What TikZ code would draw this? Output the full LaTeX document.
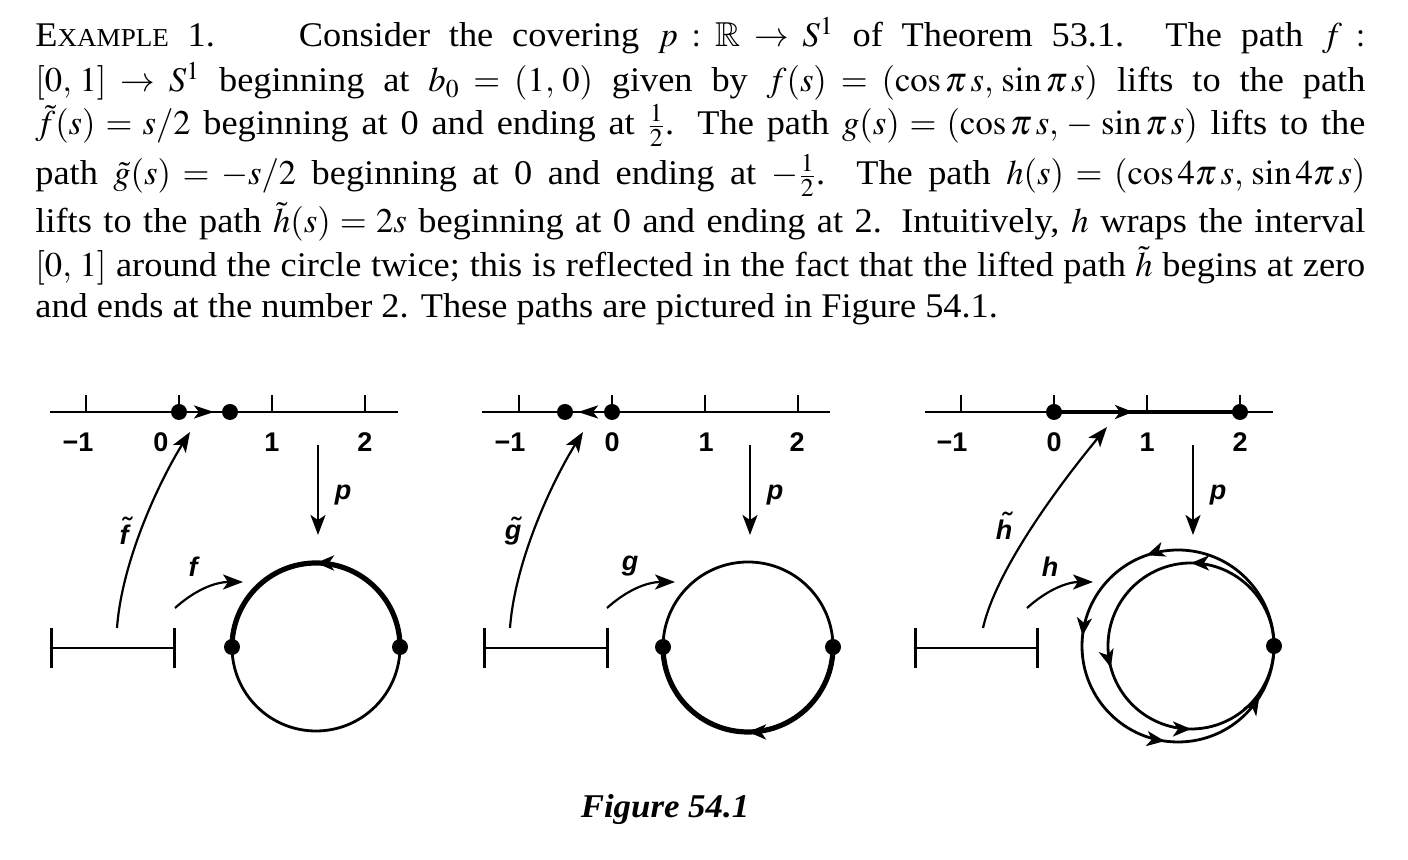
\documentclass[tikz,border=0pt]{standalone}
\usepackage{amssymb}
\usepackage{mathptmx}
\usepackage[no-math]{fontspec}
\setmainfont{Liberation Serif}[FakeStretch=1.05]
\newfontfamily\figfont{Liberation Sans}
\usetikzlibrary{arrows.meta}
\usetikzlibrary{decorations.markings}

\newcommand\tildelab[2]{\setbox0\hbox{#2}\hbox to\wd0{\hss\kern0.12em\raisebox{#1}{\char"02DC}\hss}\kern-\wd0\box0}

\tikzset{
  textline/.style={anchor=base west, inner sep=0pt, font=\fontsize{17.3}{20}\selectfont},
  axisline/.style={line width=1.3pt},
  lift/.style={line width=1.1pt, -{Stealth[length=10pt,width=7.5pt,inset=2.5pt]}},
  numlabel/.style={anchor=base, inner sep=0pt, font=\figfont\bfseries\fontsize{13.5}{16}\selectfont},
  maplabel/.style={anchor=base, inner sep=0pt, font=\figfont\bfseries\itshape\fontsize{13.5}{16}\selectfont},
  circline/.style={line width=1.4pt},
  thickarc/.style={line width=2.6pt},
  cirarrow/.style={postaction={decorate, decoration={markings, mark=at position #1 with {\arrow{Stealth[length=9pt,width=7.5pt,inset=2.5pt]}}}}}
}

\begin{document}
\begin{tikzpicture}[x=0.5pt, y=0.5pt]
\useasboundingbox (0,0) rectangle (1408,860);

\node[textline] (line1) at (35,813) {\hbox to 665pt{E{\fontsize{12.9}{16}\selectfont XAMPLE} 1.\hskip 42pt Consider the covering $p:\mathbb{R}\to S^1$ of Theorem 53.1. The path $f:$}};
\node[textline] (line2) at (35,768) {\hbox to 665pt{$[0,\,1]\to S^1$ beginning at $b_0=(1,\,0)$ given by $f(s)=(\cos\pi\mkern2mu s,\,\sin\pi\mkern2mu s)$ lifts to the path}};
\node[textline] (line3) at (35,725) {\hbox to 665pt{$\tilde f(s)=s/2$ beginning at 0 and ending at $\frac12$. The path $g(s)=(\cos\pi\mkern2mu s,\,-\,\sin\pi\mkern2mu s)$ lifts to the}};
\node[textline] (line4) at (35,675) {\hbox to 665pt{path $\tilde g(s)=-s/2$ beginning at 0 and ending at $-\frac12$. The path $h(s)=(\cos4\pi\mkern2mu s,\,\sin4\pi\mkern2mu s)$}};
\node[textline] (line5) at (35,627) {\hbox to 665pt{lifts to the path $\tilde h(s)=2s$ beginning at 0 and ending at 2. Intuitively, $h$ wraps the interval}};
\node[textline] (line6) at (35,583) {\hbox to 665pt{$[0,\,1]$ around the circle twice; this is reflected in the fact that the lifted path $\tilde h$ begins at zero}};
\node[textline] (line7) at (35,542) {and ends at the number 2. These paths are pictured in Figure 54.1.};

\begin{scope}
\draw[axisline] (50,448) -- (398,448);
\foreach \t [evaluate=\t as \tx using 179+93*\t] in {-1,0,1,2} \draw[axisline] (\tx,448) --++(0,17);
\foreach \lx/\lt [count=\i] in {78/−1,161/0,272/1,365/2} \node[numlabel] (fnum\i) at (\lx,408) {\lt};
\coordinate (fzero) at (179,448);
\coordinate (fhalf) at (230,448);
\coordinate (ftip) at (214,448);
\draw[axisline, -{Stealth[length=10pt,width=6.5pt,inset=2.5pt]}] (fzero) -- (ftip);
\fill (fzero) circle[radius=8];
\fill (fhalf) circle[radius=8];
\draw[axisline, {Bar[width=20pt]}-{Bar[width=20pt]}] (50,212) coordinate (fI0) -- (176,212) coordinate (fI1);
\coordinate (fupa) at (117,232);
\coordinate (fupb) at (190,428);
\draw[lift] (fupa) .. controls (122,300) and (160,380) .. (fupb);
\node[maplabel] (flift) at (124,315) {\tildelab{0.33em}{f}};
\coordinate (fpa) at (318,415);
\coordinate (fpb) at (318,325);
\draw[lift] (fpa) -- (fpb);
\node[maplabel] (fp) at (343,360) {p};
\coordinate (fma) at (175,252);
\coordinate (fmb) at (243,278);
\draw[lift] (fma) .. controls (195,270) and (215,278) .. (fmb);
\node[maplabel] (fname) at (193,283) {f};
\coordinate (fright) at (400,213);
\coordinate (fleft) at (232,213);
\draw[circline] (fright) arc[start angle=0, end angle=-180, radius=84];
\draw[thickarc, cirarrow=0.5] (fright) arc[start angle=0, end angle=180, radius=84];
\fill (fleft) circle[radius=8];
\fill (fright) circle[radius=8];
\end{scope}

\begin{scope}[shift={(432,0)}]
\draw[axisline] (50,448) -- (398,448);
\foreach \t [evaluate=\t as \tx using 180+93*\t] in {-1,0,1,2} \draw[axisline] (\tx,448) --++(0,17);
\foreach \lx/\lt [count=\i] in {78/−1,180/0,274/1,365/2} \node[numlabel] (gnum\i) at (\lx,408) {\lt};
\coordinate (gzero) at (180,448);
\coordinate (ghalf) at (133,448);
\coordinate (gtip) at (146,448);
\draw[axisline, -{Stealth[length=10pt,width=6.5pt,inset=2.5pt]}] (gzero) -- (gtip);
\fill (gzero) circle[radius=8];
\fill (ghalf) circle[radius=8];
\draw[axisline, {Bar[width=20pt]}-{Bar[width=20pt]}] (51,212) coordinate (gI0) -- (177,212) coordinate (gI1);
\coordinate (gupa) at (78,232);
\coordinate (gupb) at (151,428);
\draw[lift] (gupa) .. controls (83,300) and (121,380) .. (gupb);
\node[maplabel] (glift) at (81,320) {\tildelab{0.12em}{g}};
\coordinate (gpa) at (318,415);
\coordinate (gpb) at (318,325);
\draw[lift] (gpa) -- (gpb);
\node[maplabel] (gp) at (343,360) {p};
\coordinate (gma) at (175,252);
\coordinate (gmb) at (243,278);
\draw[lift] (gma) .. controls (195,270) and (215,278) .. (gmb);
\node[maplabel] (gname) at (198,289) {g};
\coordinate (gright) at (401,213);
\coordinate (gleft) at (231,213);
\draw[circline] (gright) arc[start angle=0, end angle=180, radius=85];
\draw[thickarc, cirarrow=0.5] (gright) arc[start angle=0, end angle=-180, radius=85];
\fill (gleft) circle[radius=8];
\fill (gright) circle[radius=8];
\end{scope}

\begin{scope}[shift={(864,0)}]
\draw[axisline] (61,448) -- (409,448);
\foreach \t [evaluate=\t as \tx using 190+93*\t] in {-1,0,1,2} \draw[axisline] (\tx,448) --++(0,17);
\foreach \lx/\lt [count=\i] in {88/−1,190/0,283/1,376/2} \node[numlabel] (hnum\i) at (\lx,408) {\lt};
\coordinate (hzero) at (190,448);
\coordinate (htwo) at (376,448);
\coordinate (htip) at (269,448);
\draw[line width=2.3pt] (hzero) -- (htwo);
\draw[line width=2.3pt, -{Stealth[length=9pt,width=7pt,inset=2.5pt]}] (hzero) -- (htip);
\fill (hzero) circle[radius=8];
\fill (htwo) circle[radius=8];
\draw[axisline, {Bar[width=20pt]}-{Bar[width=20pt]}] (50,212) coordinate (hI0) -- (175,212) coordinate (hI1);
\coordinate (hupa) at (119,232);
\coordinate (hupb) at (243,433);
\draw[lift] (hupa) .. controls (132,290) and (195,375) .. (hupb);
\node[maplabel] (hlift) at (140,320) {\tildelab{0.33em}{h}};
\coordinate (hpa) at (329,415);
\coordinate (hpb) at (329,325);
\draw[lift] (hpa) -- (hpb);
\node[maplabel] (hp) at (354,360) {p};
\coordinate (hma) at (163,252);
\coordinate (hmb) at (229,278);
\draw[lift] (hma) .. controls (183,270) and (203,278) .. (hmb);
\node[maplabel] (hname) at (186,283) {h};
\coordinate (hbase) at (410,214);
\draw[circline, cirarrow=0.25, cirarrow=0.542, cirarrow=0.75] (hbase) arc[start angle=0, end angle=360, radius=83];
\draw[circline, cirarrow=0.303, cirarrow=0.483, cirarrow=0.728, cirarrow=0.911] (hbase) arc[start angle=0, end angle=360, radius=96];
\fill (hbase) circle[radius=8];
\end{scope}

\node[anchor=base, inner sep=0pt, font=\bfseries\itshape\fontsize{16.6}{20}\selectfont] (caption) at (665,42) {Figure 54.1};
\end{tikzpicture}
\end{document}
